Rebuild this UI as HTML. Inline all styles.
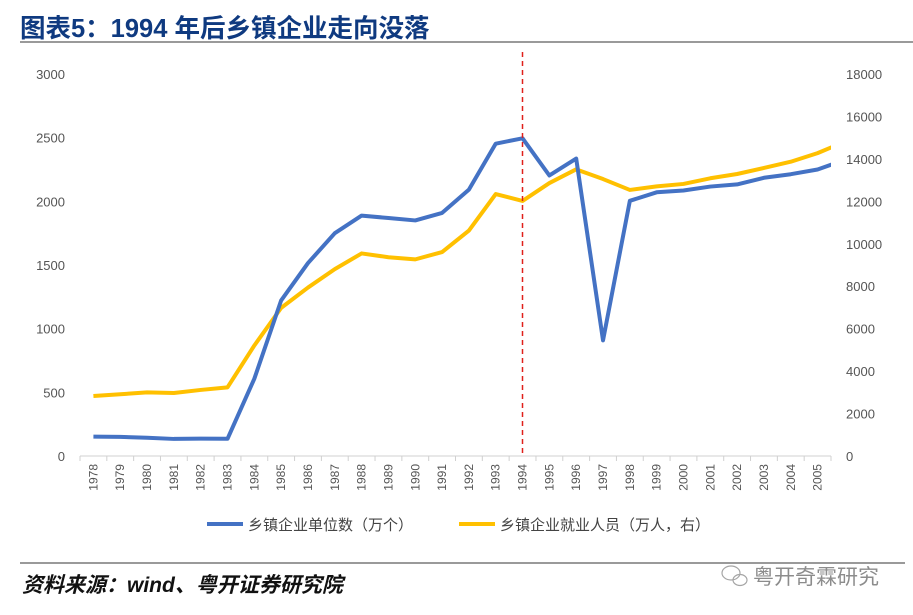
<!DOCTYPE html>
<html><head><meta charset="utf-8">
<style>
body{margin:0;background:#fff;}
#wrap{position:relative;width:913px;height:615px;overflow:hidden;font-family:"Liberation Sans","Noto Sans CJK SC",sans-serif;}
</style></head>
<body>
<div id="wrap">
<svg id="svg" width="913" height="615" xmlns="http://www.w3.org/2000/svg">
  <text x="20" y="37" font-size="25.5" font-weight="bold" fill="#0f3a80" font-family="Liberation Sans,Noto Sans CJK SC,sans-serif">图表5：1994 年后乡镇企业走向没落</text>
  <rect x="20" y="41" width="893" height="2" fill="#9a9a9a"/>
  <defs><clipPath id="plotclip"><rect x="80" y="40" width="751" height="430"/></clipPath></defs>
  <g id="axes"></g>
  <g id="series" clip-path="url(#plotclip)"></g>
  <line x1="522.5" y1="52" x2="522.5" y2="456" stroke="#e0201b" stroke-width="1.5" stroke-dasharray="5,4"/>
  <g>
    <line x1="207" y1="524" x2="243" y2="524" stroke="#4472c4" stroke-width="4"/>
    <text x="248" y="530" font-size="15" fill="#444">乡镇企业单位数（万个）</text>
    <line x1="459" y1="524" x2="495" y2="524" stroke="#ffc000" stroke-width="4"/>
    <text x="500" y="530" font-size="15" fill="#444">乡镇企业就业人员（万人，右）</text>
  </g>
  <rect x="20" y="562" width="885" height="2" fill="#9a9a9a"/>
  <text x="22" y="592" font-size="21" font-style="italic" font-weight="bold" fill="#111">资料来源：wind、粤开证券研究院</text>
  <g opacity="0.75">
    <ellipse cx="731" cy="573" rx="9" ry="7" fill="none" stroke="#888" stroke-width="1.2"/>
    <ellipse cx="740" cy="580" rx="7" ry="5.5" fill="none" stroke="#888" stroke-width="1.2"/>
    <text x="753" y="584" font-size="21" fill="#666">粤开奇霖研究</text>
  </g>
</svg>
</div>
<script>
const categories=["1978","1979","1980","1981","1982","1983","1984","1985","1986","1987","1988","1989","1990","1991","1992","1993","1994","1995","1996","1997","1998","1999","2000","2001","2002","2003","2004","2005","2006"];
const unitsValues=[152,150,143,134,136,135,607,1222,1515,1750,1888,1869,1850,1909,2092,2453,2495,2203,2336,908,2004,2071,2085,2116,2133,2185,2213,2250,2325];
const employmentValues=[2827,2909,3000,2970,3113,3235,5208,6979,7937,8805,9545,9367,9265,9609,10625,12345,12017,12862,13508,13050,12537,12704,12820,13086,13288,13573,13866,14272,14800];
const leftTicks=[0,500,1000,1500,2000,2500,3000];
const rightTicks=[0,2000,4000,6000,8000,10000,12000,14000,16000,18000];
const labelCount=28;

const NS="http://www.w3.org/2000/svg";
const X0=80,X1=831,Y0=456,Y1=74;
const step=(X1-X0)/labelCount;
function xPos(i){return X0+step*(i+0.5);}
function yL(v){return Y0-(v/3000)*(Y0-Y1);}
function yR(v){return Y0-(v/18000)*(Y0-Y1);}
function mk(tag,attrs,parent){const e=document.createElementNS(NS,tag);for(const k in attrs)e.setAttribute(k,attrs[k]);parent.appendChild(e);return e;}
const axes=document.getElementById('axes'),series=document.getElementById('series');

const xl=mk('line',{x1:X0,y1:Y0,x2:X1,y2:Y0,stroke:'#d0d0d0','stroke-width':1},axes);


for(let i=0;i<=labelCount;i++){
  const t=mk('line',{x1:X0+step*i,y1:Y0,x2:X0+step*i,y2:Y0+5,stroke:'#d0d0d0'},axes);
  
  
}
for(let i=0;i<labelCount;i++){
  const x=xPos(i)+4,y=Y0+8;
  const t=mk('text',{x:x,y:y,transform:`rotate(-90 ${x} ${y})`,'text-anchor':'end','font-size':12,fill:'#555'},axes);
  t.textContent=categories[i];
  
  
}
leftTicks.forEach(v=>{
  const t=mk('text',{x:65,y:yL(v)+5,'text-anchor':'end','font-size':13,fill:'#555'},axes);
  t.textContent=v;
  
  
});
rightTicks.forEach(v=>{
  const t=mk('text',{x:846,y:yR(v)+5,'text-anchor':'start','font-size':13,fill:'#555'},axes);
  t.textContent=v;
  
  
});
const yp=employmentValues.map((v,i)=>xPos(i)+','+yR(v)).join(' ');
const yl=mk('polyline',{points:yp,fill:'none',stroke:'#ffc000','stroke-width':4,'stroke-linejoin':'round'},series);


const bp=unitsValues.map((v,i)=>xPos(i)+','+yL(v)).join(' ');
const bl=mk('polyline',{points:bp,fill:'none',stroke:'#4472c4','stroke-width':4,'stroke-linejoin':'round'},series);


</script>
</body></html>
